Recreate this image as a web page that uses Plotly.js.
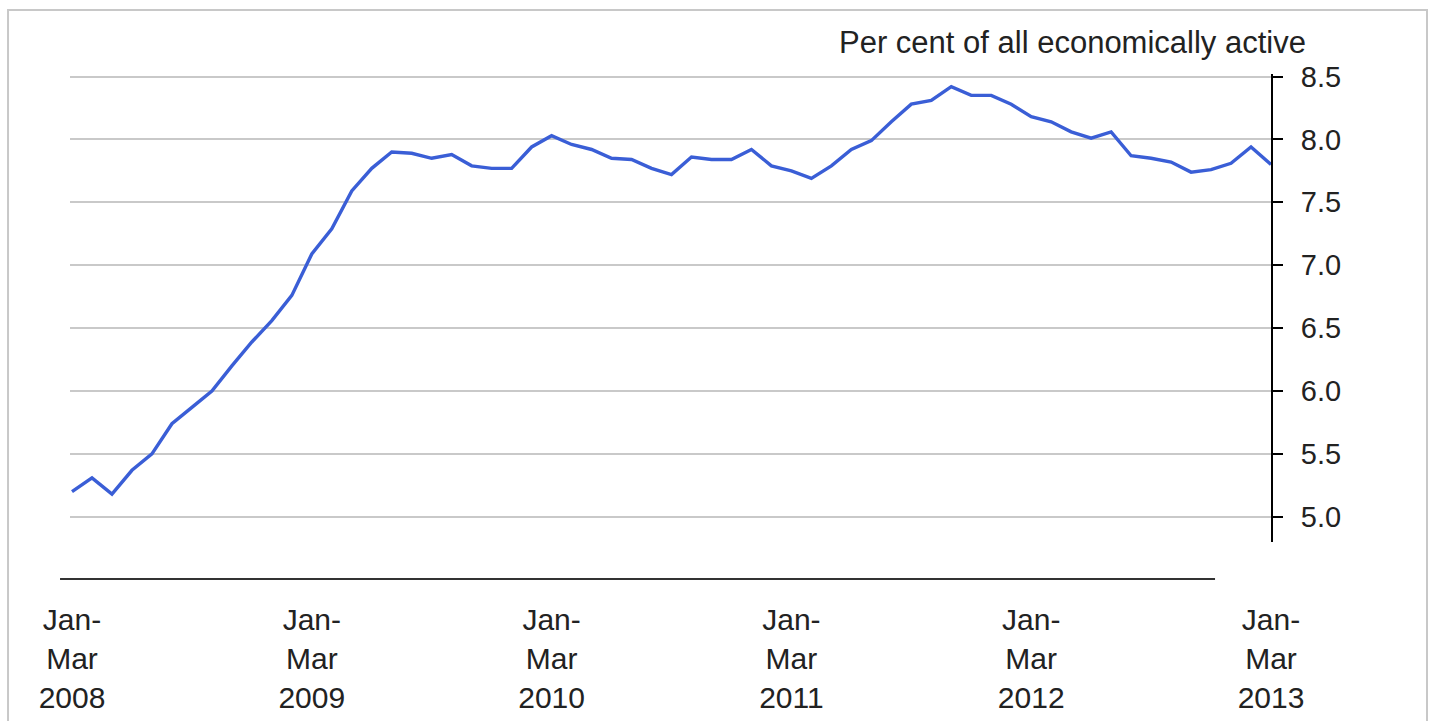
<!DOCTYPE html>
<html>
<head>
<meta charset="utf-8">
<script src="https://cdn.plot.ly/plotly-3.0.1.min.js"></script>
<style>
  html, body { margin: 0; padding: 0; background: #ffffff; }
  #chart { width: 1431px; height: 721px; }
</style>
</head>
<body>
<div id="chart"></div>
<script>
  // Rolling three-month periods, Jan-Mar 2008 to Jan-Mar 2013 (61 periods)
  const periodIndex = Array.from({ length: 61 }, (_, i) => i);

  const unemploymentRate = [
    5.20, 5.31, 5.18, 5.37, 5.50, 5.74, 5.87, 6.00, 6.20, 6.39, 6.56, 6.76,
    7.09, 7.29, 7.59, 7.77, 7.90, 7.89, 7.85, 7.88, 7.79, 7.77, 7.77, 7.94,
    8.03, 7.96, 7.92, 7.85, 7.84, 7.77, 7.72, 7.86, 7.84, 7.84, 7.92, 7.79,
    7.75, 7.69, 7.79, 7.92, 7.99, 8.14, 8.28, 8.31, 8.42, 8.35, 8.35, 8.28,
    8.18, 8.14, 8.06, 8.01, 8.06, 7.87, 7.85, 7.82, 7.74, 7.76, 7.81, 7.94,
    7.80
  ];

  const xTickVals = [0, 12, 24, 36, 48, 60];
  const xTickText = [
    "Jan-<br>Mar<br>2008",
    "Jan-<br>Mar<br>2009",
    "Jan-<br>Mar<br>2010",
    "Jan-<br>Mar<br>2011",
    "Jan-<br>Mar<br>2012",
    "Jan-<br>Mar<br>2013"
  ];

  const FONT = "'Liberation Sans', Arial, sans-serif";
  const TEXT = "#222222";

  const trace = {
    type: "scatter",
    mode: "lines",
    x: periodIndex,
    y: unemploymentRate,
    line: { color: "#3a5ed6", width: 3.4 },
    hoverinfo: "y"
  };

  const layout = {
    width: 1431,
    height: 721,
    margin: { l: 70, r: 160, t: 74, b: 179 },
    paper_bgcolor: "#ffffff",
    plot_bgcolor: "#ffffff",
    showlegend: false,
    font: { family: FONT, color: TEXT, size: 28 },
    xaxis: {
      range: [-0.1, 60],
      tickvals: xTickVals,
      ticktext: xTickText,
      showgrid: false,
      zeroline: false,
      showline: false,
      ticks: "",
      ticklabelstandoff: 57,
      tickfont: { family: FONT, color: TEXT, size: 30 }
    },
    yaxis: {
      side: "right",
      range: [4.8, 8.52],
      tick0: 5,
      dtick: 0.5,
      tickformat: ".1f",
      showgrid: true,
      gridcolor: "#c9c9c9",
      gridwidth: 2,
      zeroline: false,
      showline: true,
      linecolor: "#000000",
      linewidth: 2,
      ticks: "outside",
      ticklen: 10,
      tickwidth: 2,
      tickcolor: "#000000",
      ticklabelstandoff: 12,
      tickfont: { family: FONT, color: TEXT, size: 29 }
    },
    shapes: [
      {
        type: "line", xref: "paper", yref: "paper",
        x0: -0.0083, x1: 0.9534, y0: -0.079, y1: -0.079,
        line: { color: "#333333", width: 2 }
      },
      {
        type: "rect", xref: "paper", yref: "paper",
        x0: -0.0516, x1: 1.1299, y0: -0.6, y1: 1.1368,
        line: { color: "#c8c8c8", width: 2 }
      }
    ],
    annotations: [
      {
        xref: "paper", yref: "paper",
        x: 1.0308, y: 1.0673,
        xanchor: "right", yanchor: "middle",
        showarrow: false,
        text: "Per cent of all economically active",
        font: { family: FONT, color: TEXT, size: 31 }
      }
    ]
  };

  Plotly.newPlot("chart", [trace], layout, { displayModeBar: false, staticPlot: true });
</script>
</body>
</html>
